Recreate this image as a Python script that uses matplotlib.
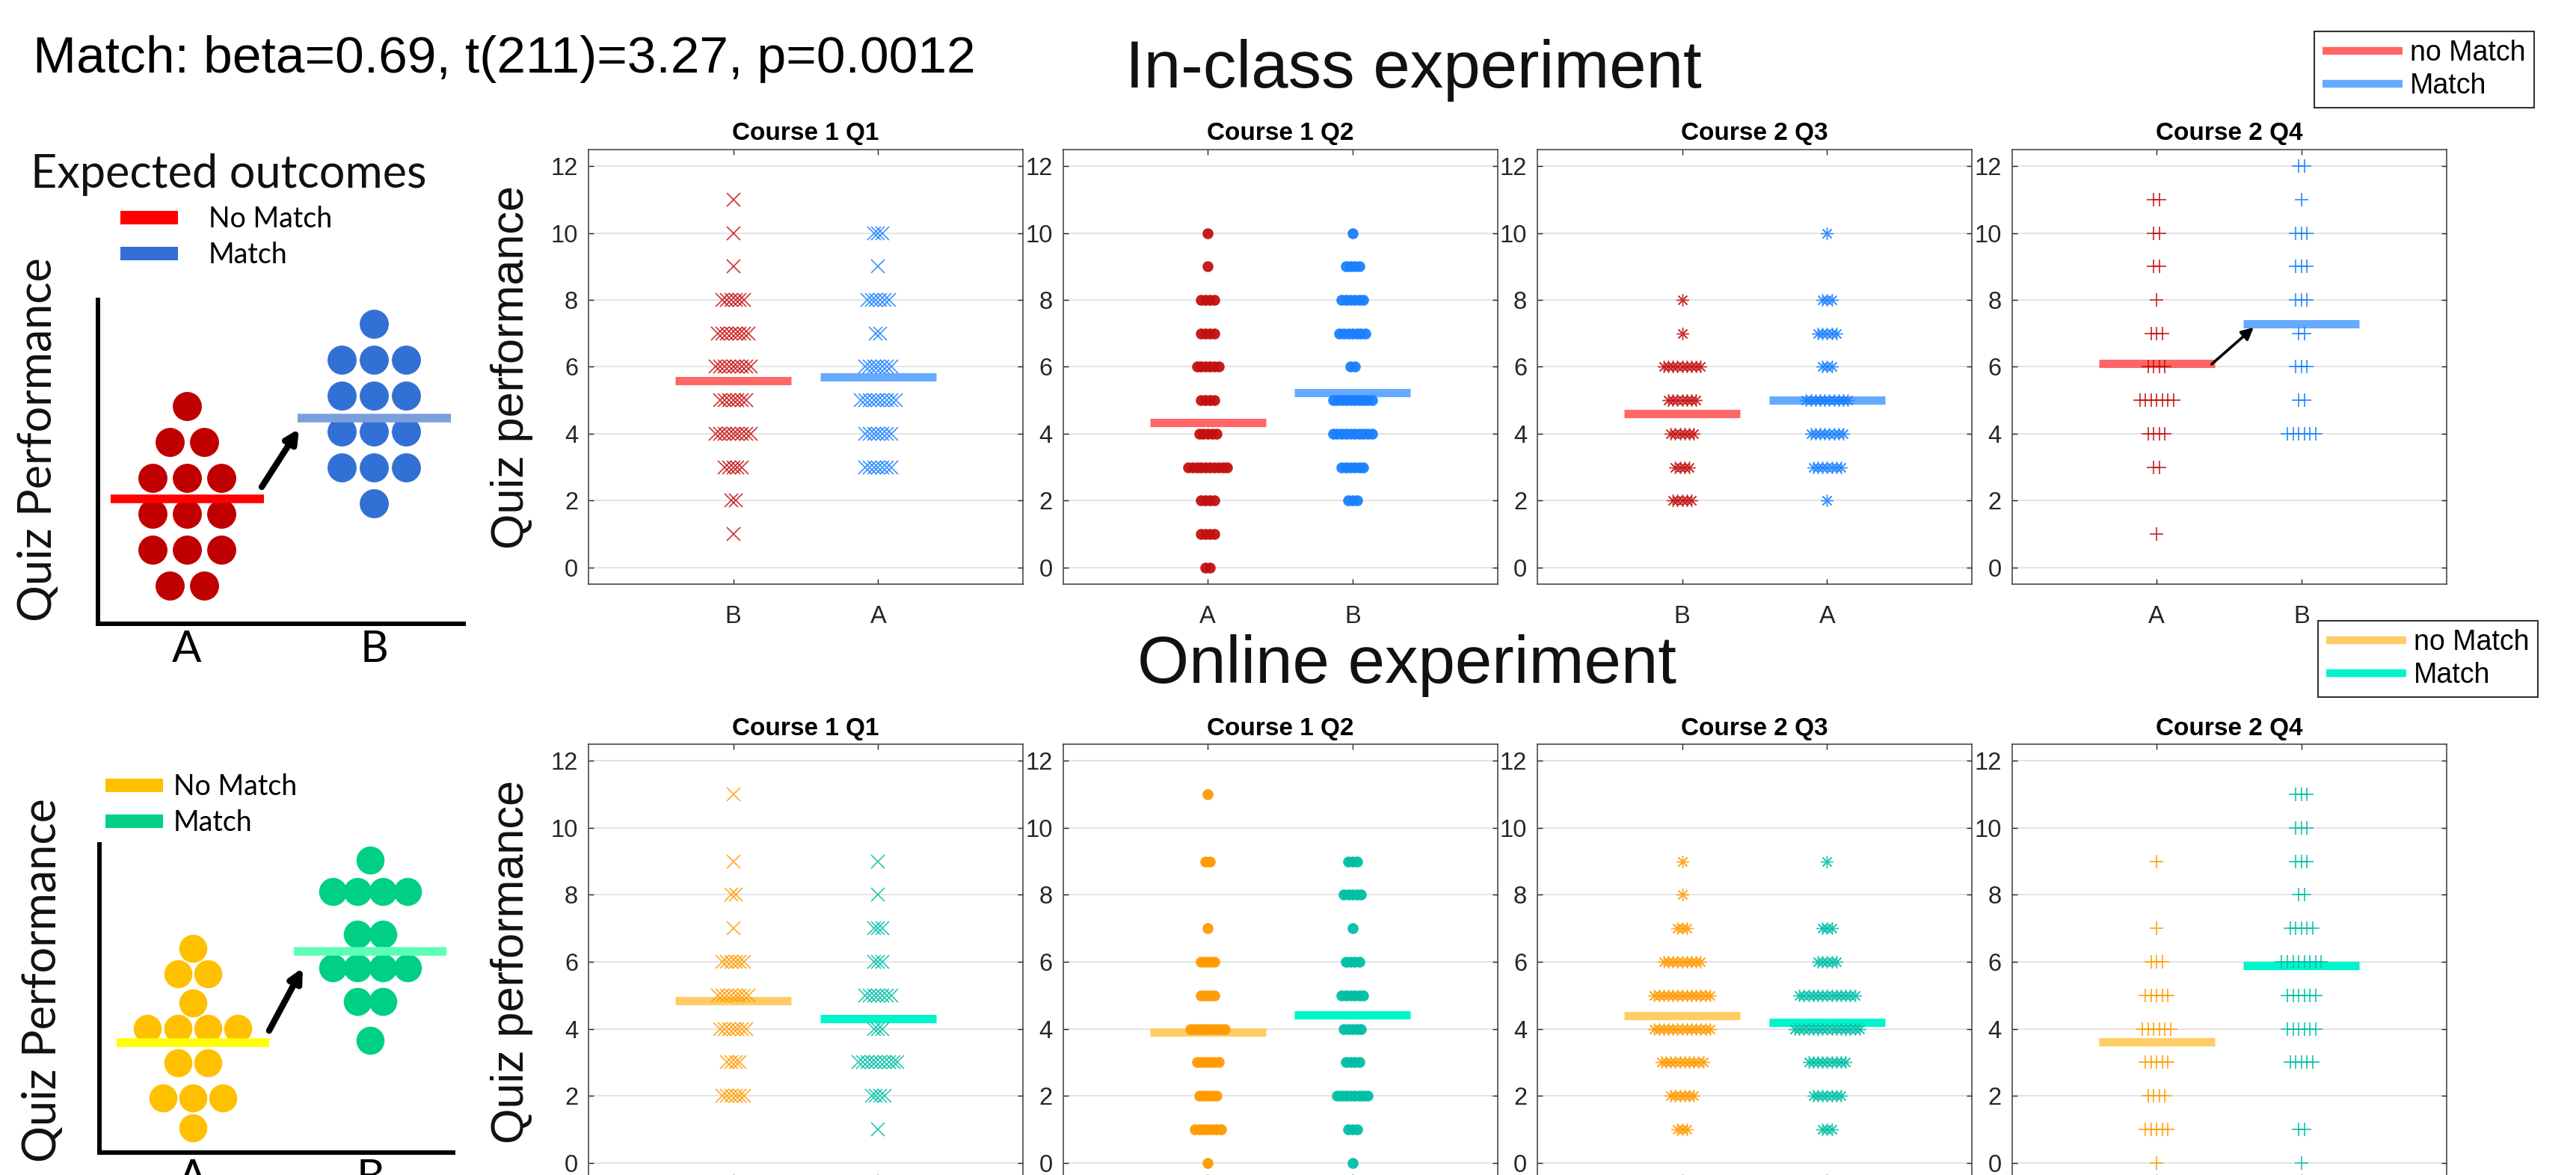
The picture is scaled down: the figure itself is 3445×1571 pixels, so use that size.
import numpy as np
import matplotlib
matplotlib.use('Agg')
import matplotlib.pyplot as plt
from matplotlib.lines import Line2D

plt.rcParams['font.family'] = ['Liberation Sans', 'DejaVu Sans']

W, H = 3445, 1571
DPI = 100

# ------------------------------------------------------------------ data
scores = list(range(13))  # quiz score levels 0..12
panel_titles = ['Course 1 Q1', 'Course 1 Q2', 'Course 2 Q3', 'Course 2 Q4']
inclass_xlabels = [['B', 'A'], ['A', 'B'], ['B', 'A'], ['A', 'B']]
online_xlabels = [['', ''], ['', ''], ['', ''], ['', '']]  # below the visible area

# number of students at each score 0..12
inclass_nomatch_q1 = [0, 1, 2, 5, 9, 7, 9, 8, 6, 1, 1, 1, 0]
inclass_match_q1 = [0, 0, 0, 7, 7, 9, 7, 2, 6, 1, 3, 0, 0]
inclass_nomatch_q2 = [2, 4, 4, 10, 5, 4, 6, 4, 4, 1, 1, 0, 0]
inclass_match_q2 = [0, 0, 3, 6, 10, 10, 2, 7, 6, 4, 1, 0, 0]
inclass_nomatch_q3 = [0, 0, 5, 4, 6, 7, 9, 1, 1, 0, 0, 0, 0]
inclass_match_q3 = [0, 0, 1, 7, 8, 10, 3, 5, 3, 0, 1, 0, 0]
inclass_nomatch_q4 = [0, 1, 0, 2, 4, 7, 4, 3, 1, 2, 2, 2, 0]
inclass_match_q4 = [0, 0, 0, 0, 6, 2, 3, 2, 3, 3, 3, 1, 2]

online_nomatch_q1 = [0, 0, 6, 4, 7, 8, 6, 1, 2, 1, 0, 1, 0]
online_match_q1 = [0, 1, 4, 10, 3, 7, 3, 3, 1, 1, 0, 0, 0]
online_nomatch_q2 = [1, 7, 5, 6, 9, 4, 4, 1, 0, 2, 0, 1, 0]
online_match_q2 = [1, 3, 8, 4, 5, 6, 4, 1, 5, 3, 0, 0, 0]
online_nomatch_q3 = [0, 3, 6, 10, 13, 13, 9, 3, 1, 1, 0, 0, 0]
online_match_q3 = [0, 3, 7, 9, 15, 13, 5, 3, 0, 1, 0, 0, 0]
online_nomatch_q4 = [1, 5, 4, 5, 6, 5, 3, 1, 0, 1, 0, 0, 0]
online_match_q4 = [1, 2, 0, 5, 6, 6, 8, 5, 2, 3, 3, 3, 0]

inclass_nomatch_means = [5.58, 4.33, 4.61, 6.10]
inclass_match_means = [5.70, 5.23, 5.00, 7.29]
online_nomatch_means = [4.83, 3.90, 4.39, 3.60]
online_match_means = [4.30, 4.41, 4.18, 5.88]

stats_text = 'Match: beta=0.69, t(211)=3.27, p=0.0012'
legend_labels = ['no Match', 'Match']

# schematic ("Expected outcomes") illustration
schem_categories = ['A', 'B']
schem_legend_labels = ['No Match', 'Match']
schem_top_nomatch_levels = [1, 2, 3, 4, 5, 6]
schem_top_nomatch_counts = [2, 3, 3, 3, 2, 1]
schem_top_match_levels = [3.3, 4.3, 5.3, 6.3, 7.3, 8.3]
schem_top_match_counts = [1, 3, 3, 3, 3, 1]
schem_top_means = [3.42, 5.67]
schem_bot_nomatch_levels = [1, 2, 3.18, 4.33, 5.18, 6.15, 7]
schem_bot_nomatch_counts = [1, 3, 2, 4, 1, 2, 1]
schem_bot_match_levels = [3.93, 5.23, 6.35, 7.48, 8.9, 9.95]
schem_bot_match_counts = [1, 2, 4, 2, 4, 1]
schem_bot_means = [3.85, 6.9]

# ------------------------------------------------------------------ styles
TOP_NM, TOP_M = '#C41010', '#1A80FF'
TOP_NM_MEAN, TOP_M_MEAN = '#FF6666', '#66AAFF'
BOT_NM, BOT_M = '#FF9A00', '#00BFA5'
BOT_NM_MEAN, BOT_M_MEAN = '#FFCC66', '#00F5CC'
markers = ['x', 'o', (8, 2, 0), '+']
msizes = [13, 10.5, 12, 13.5]
mews = [1.2, 0, 1.0, 1.3]
spacings = [0.03, 0.03, 0.032, 0.039]
TXT = '#262626'

fig = plt.figure(figsize=(W / DPI, H / DPI), dpi=DPI)
fig.patch.set_facecolor('white')


def fx(px):
    return px / W


def fy(py):
    return 1 - py / H


def swarm(counts, center, spacing):
    xs, ys = [], []
    for s, n in zip(scores, counts):
        if n == 0:
            continue
        offs = (np.arange(n) - (n - 1) / 2.0) * spacing
        xs.extend(center + offs)
        ys.extend([s] * n)
    return np.array(xs), np.array(ys)


left0 = 787
pw = 581
step = 634.5
rows = [
    dict(top=200, bot=781, xl=inclass_xlabels,
         nm=[inclass_nomatch_q1, inclass_nomatch_q2, inclass_nomatch_q3, inclass_nomatch_q4],
         m=[inclass_match_q1, inclass_match_q2, inclass_match_q3, inclass_match_q4],
         nm_mean=inclass_nomatch_means, m_mean=inclass_match_means,
         cols=(TOP_NM, TOP_M, TOP_NM_MEAN, TOP_M_MEAN)),
    dict(top=995, bot=1577, xl=online_xlabels,
         nm=[online_nomatch_q1, online_nomatch_q2, online_nomatch_q3, online_nomatch_q4],
         m=[online_match_q1, online_match_q2, online_match_q3, online_match_q4],
         nm_mean=online_nomatch_means, m_mean=online_match_means,
         cols=(BOT_NM, BOT_M, BOT_NM_MEAN, BOT_M_MEAN)),
]

for r, row in enumerate(rows):
    for i in range(4):
        ax = fig.add_axes([fx(left0 + i * step), fy(row['bot']), fx(pw), (row['bot'] - row['top']) / H])
        ax.set_xlim(0, 3)
        ax.set_ylim(-0.5, 12.5)
        ax.set_yticks(range(0, 13, 2))
        ax.set_xticks([1, 2])
        ax.set_xticklabels(row['xl'][i])
        ax.grid(axis='y', color='#E2E2E2', lw=1.3)
        ax.set_axisbelow(True)
        ax.tick_params(direction='in', top=True, right=True, length=5, width=1.0,
                       colors=TXT, labelsize=23.5)
        ax.tick_params(axis='x', pad=20)
        ax.tick_params(axis='y', pad=10)
        for sp in ax.spines.values():
            sp.set_color('#3a3a3a')
            sp.set_linewidth(1.1)
        ax.set_title(panel_titles[i], fontsize=24, fontweight='bold', pad=9)
        c_nm, c_m, c_nm_mean, c_m_mean = row['cols']
        groups = [(row['nm'][i], c_nm, row['nm_mean'][i], c_nm_mean),
                  (row['m'][i], c_m, row['m_mean'][i], c_m_mean)]
        for j, (cnts, col, mu, mcol) in enumerate(groups):
            xc = j + 1
            ax.plot([xc - 0.4, xc + 0.4], [mu, mu], color=mcol, lw=8,
                    solid_capstyle='butt', zorder=2)
            xs, ys = swarm(cnts, xc, spacings[i])
            if markers[i] == 'o':
                ax.plot(xs, ys, ls='none', marker='o', ms=msizes[i], mfc=col,
                        mec='none', alpha=0.95, zorder=3)
            else:
                ax.plot(xs, ys, ls='none', marker=markers[i], ms=msizes[i], mec=col,
                        mfc='none', mew=mews[i], alpha=0.85, zorder=3)
        if i == 0:
            ax.text(-0.1756, 0.5, 'Quiz performance', transform=ax.transAxes,
                    rotation=90, ha='center', va='center', fontsize=44, color='#111111')
        if r == 0 and i == 3:
            ax.annotate('', xy=(2 - 0.33, row['m_mean'][i] - 0.11),
                        xytext=(1 + 0.38, row['nm_mean'][i] - 0.02),
                        arrowprops=dict(arrowstyle='-|>', lw=2.6, color='black',
                                        mutation_scale=24, shrinkA=0, shrinkB=0),
                        zorder=5)

# ------------------------------------------------------------------ big texts
fig.text(fx(44), fy(97), stats_text, fontsize=50, ha='left', va='baseline', color='black')
fig.text(fx(1890), fy(94), 'In-class experiment', fontsize=64, ha='center', va='center', color='#111111')
fig.text(fx(1881), fy(890), 'Online experiment', fontsize=64, ha='center', va='center', color='#111111')

# ------------------------------------------------------------------ right legends
for (y_top, cols) in [(42, (TOP_NM_MEAN, TOP_M_MEAN)), (830, (BOT_NM_MEAN, BOT_M_MEAN))]:
    handles = [Line2D([], [], color=c, lw=7.5, solid_capstyle='butt') for c in cols]
    leg = fig.legend(handles, legend_labels, loc='upper left',
                     bbox_to_anchor=(fx(3095 if y_top == 42 else 3100), fy(y_top)),
                     bbox_transform=fig.transFigure, fontsize=27, frameon=True,
                     fancybox=False, edgecolor='#333333', framealpha=1,
                     borderpad=0.3, borderaxespad=0, handlelength=2.85,
                     handletextpad=0.27, labelspacing=0.2)
    leg.get_frame().set_linewidth(1.5)

# ------------------------------------------------------------------ schematics
SCH_FONT = ['Lato', 'DejaVu Sans']
schem = [
    dict(box=(131, 401, 620, 834), xlim=(0.524, 2.48), ylim=(-0.0625, 8.96),
         nm_lv=schem_top_nomatch_levels, nm_ct=schem_top_nomatch_counts,
         m_lv=schem_top_match_levels, m_ct=schem_top_match_counts,
         means=schem_top_means, dot=('#C00000', '#3370D6'),
         mean_cols=('#FF0000', '#7B9FDB'), leg_cols=('#FF0000', '#3370D6'),
         sp=(0.185, 0.172), ms=28, half=(0.41, 0.41),
         arrow=((0.40, 0.33), (-0.40, -0.30)),
         ylab=(51, 588), leg=(161, 317, 1.1)),
    dict(box=(133, 1129, 606, 1541), xlim=(0.473, 2.468), ylim=(0.175, 10.475),
         nm_lv=schem_bot_nomatch_levels, nm_ct=schem_bot_nomatch_counts,
         m_lv=schem_bot_match_levels, m_ct=schem_bot_match_counts,
         means=schem_bot_means, dot=('#FFC000', '#00D084'),
         mean_cols=('#FFFF00', '#5CFFB8'), leg_cols=('#FFC000', '#00D084'),
         sp=(0.17, 0.14), ms=27, half=(0.43, 0.43),
         arrow=((0.43, 0.40), (-0.38, -0.55)),
         ylab=(58, 1311), leg=(141, 1076, 0.37)),
]

for k, s in enumerate(schem):
    x0, y0, x1, y1 = s['box']
    ax = fig.add_axes([fx(x0), fy(y1), (x1 - x0) / W, (y1 - y0) / H])
    ax.set_xlim(*s['xlim'])
    ax.set_ylim(*s['ylim'])
    for side in ['top', 'right']:
        ax.spines[side].set_visible(False)
    for side in ['left', 'bottom']:
        ax.spines[side].set_linewidth(4.3)
        ax.spines[side].set_color('black')
    ax.set_yticks([])
    ax.set_xticks([1, 2])
    ax.set_xticklabels(schem_categories, fontsize=42, family=SCH_FONT)
    ax.tick_params(axis='x', length=0, pad=6)
    ax.patch.set_alpha(0)
    for j, (lv, ct) in enumerate([(s['nm_lv'], s['nm_ct']), (s['m_lv'], s['m_ct'])]):
        xs, ys = [], []
        for level, n in zip(lv, ct):
            offs = (np.arange(n) - (n - 1) / 2.0) * s['sp'][j]
            xs.extend(j + 1 + offs)
            ys.extend([level] * n)
        ax.plot(xs, ys, ls='none', marker='o', ms=s['ms'], mfc=s['dot'][j], mec='none',
                zorder=3, clip_on=False)
        ax.plot([j + 1 - s['half'][j], j + 1 + s['half'][j]], [s['means'][j]] * 2,
                color=s['mean_cols'][j], lw=8.3, solid_capstyle='butt', zorder=4)
    (tx, ty), (hx, hy) = s['arrow']
    ax.annotate('', xy=(2 + hx, s['means'][1] + hy), xytext=(1 + tx, s['means'][0] + ty),
                arrowprops=dict(arrowstyle='-|>', lw=6, color='black', mutation_scale=26,
                                shrinkA=0, shrinkB=0), zorder=5)
    fig.text(fx(s['ylab'][0]), fy(s['ylab'][1]), 'Quiz Performance', rotation=90,
             ha='center', va='center', fontsize=44, family=SCH_FONT, color='#111111')
    handles = [Line2D([], [], color=c, lw=13, solid_capstyle='butt') for c in s['leg_cols']]
    lx, ly, tp = s['leg']
    fig.legend(handles, schem_legend_labels, loc='center left',
               bbox_to_anchor=(fx(lx), fy(ly)), bbox_transform=fig.transFigure,
               frameon=False, borderpad=0, borderaxespad=0, handlelength=2.05,
               handletextpad=tp, labelspacing=0.3,
               prop=dict(family=SCH_FONT, size=27))

fig.text(fx(306), fy(251), 'Expected outcomes', ha='center', va='baseline',
         fontsize=44, family=SCH_FONT, color='#111111')

fig.savefig('out.png', dpi=DPI)
